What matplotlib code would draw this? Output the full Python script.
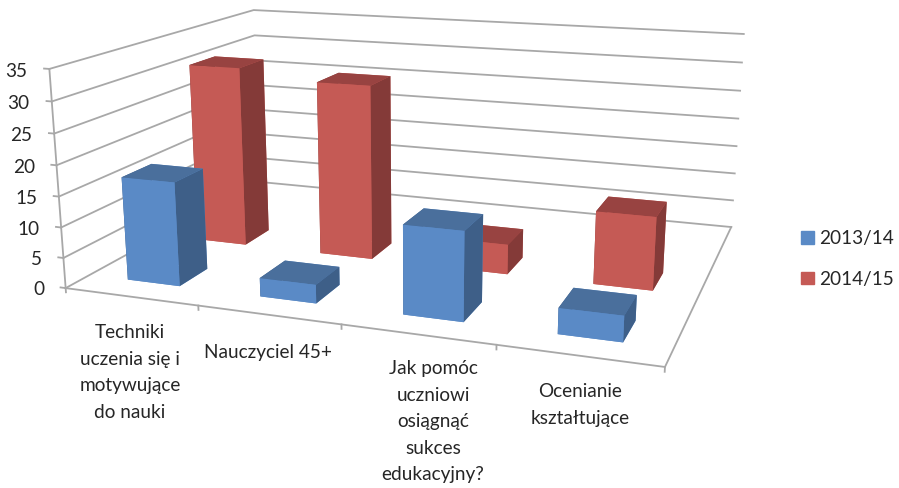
import numpy as np
import matplotlib
matplotlib.use("Agg")
import matplotlib.pyplot as plt
from matplotlib.patches import Patch

categories = ["Techniki\nuczenia się i\nmotywujące\ndo nauki", "Nauczyciel 45+",
              "Jak pomóc\nuczniowi\nosiągnąć\nsukces\nedukacyjny?", "Ocenianie\nkształtujące"]
series_names = ["2013/14", "2014/15"]
values_2013 = [17, 3, 14, 4]
values_2014 = [31, 29.5, 5, 12]
z_ticks = [0, 5, 10, 15, 20, 25, 30, 35]

# layout
W, H = 899, 488
label_pos = [(130, 324), (268, 344), (433, 360), (580, 383)]
blue = dict(front="#5A8AC6", top="#4A6F9C", side="#3E5F88")
red = dict(front="#C55A55", top="#984341", side="#843A38")
grid_c = "#A8A8A8"
FONT = "Lato"
FS = 13.7
bar_w = 0.4
bar_d = 0.265
series_y = [0.2, 0.87]

# camera: box corners (x, y, z) -> pixel position in the picture
corr = [((0, 0, 0), (65, 288)), ((0, 0, 35), (50, 69)), ((0, 2, 35), (253, 10)),
        ((4, 2, 35), (744, 34)), ((4, 2, 0), (731, 227)), ((4, 0, 0), (665, 367)),
        ((0, 2, 0), (260, 182))]
rows = []
for (x, y, z), (u, v) in corr:
    X = [x, y, z, 1]
    rows.append(X + [0, 0, 0, 0] + [-u * c for c in X])
    rows.append([0, 0, 0, 0] + X + [-v * c for c in X])
P = np.linalg.svd(np.array(rows, float))[2][-1].reshape(3, 4)
if P[2] @ np.array([2, 1, 10, 1]) < 0:
    P = -P

fig = plt.figure(figsize=(W / 100, H / 100), dpi=100, facecolor="white")
ax = fig.add_axes([0, 0, 1, 1], projection="3d", computed_zorder=False)
ax.apply_aspect = lambda position=None, **k: None
ax.set_axis_off()


def get_proj():
    A = ax.transData.inverted().get_matrix()
    r0 = A[0, 0] * P[0] + A[0, 2] * P[2]
    r1 = -A[1, 1] * P[1] + (A[1, 1] * H + A[1, 2]) * P[2]
    return np.array([r0, r1, [0, 0, 0, -1], P[2]])


ax.get_proj = get_proj

# walls, floor
line = dict(color=grid_c, lw=1.3, zorder=1)
for v in z_ticks:
    ax.plot([0, 0, 4], [0, 2, 2], [v, v, v], **line)
    ax.plot([-0.04, 0], [0, 0], [v, v], **line)
ax.plot([0, 0], [0, 0], [0, 35], **line)
ax.plot([0, 4, 4], [0, 0, 2], [0, 0, 0], **line)
for i in range(5):
    ax.plot([i, i], [0, 0], [0, -0.7], **line)

# bars, back series first
order = [(1, values_2014, red), (0, values_2013, blue)]
zo = 2
for s, vals, col in order:
    for i in range(len(categories))[::-1]:
        faces = [col["front"], col["top"], col["front"], col["front"], col["side"], col["side"]]
        ax.bar3d(i + 0.5 - bar_w / 2, series_y[s], 0, bar_w, bar_d, vals[i],
                 color=faces, shade=False, zorder=zo)
        zo += 1

for v in z_ticks:
    u, w, d = P @ np.array([-0.16, 0, v, 1])
    fig.text((u / d - 1) / W, 1 - (w / d + 4) / H, str(v), ha="right", va="center",
             fontsize=FS, family=FONT, color="#262626")
for t, (x, y) in zip(categories, label_pos):
    fig.text(x / W, 1 - y / H, t, ha="center", va="top", fontsize=FS, family=FONT,
             color="#262626", linespacing=1.68)

handles = [Patch(color=blue["front"]), Patch(color=red["front"])]
fig.legend(handles, series_names, loc="center left", bbox_to_anchor=(784 / W, 1 - 259 / H), frameon=False,
           prop=dict(family=FONT, size=FS), handlelength=0.66, handleheight=0.66, handletextpad=0.3,
           labelspacing=1.22, labelcolor="#262626")
fig.savefig("out.png", dpi=100)
